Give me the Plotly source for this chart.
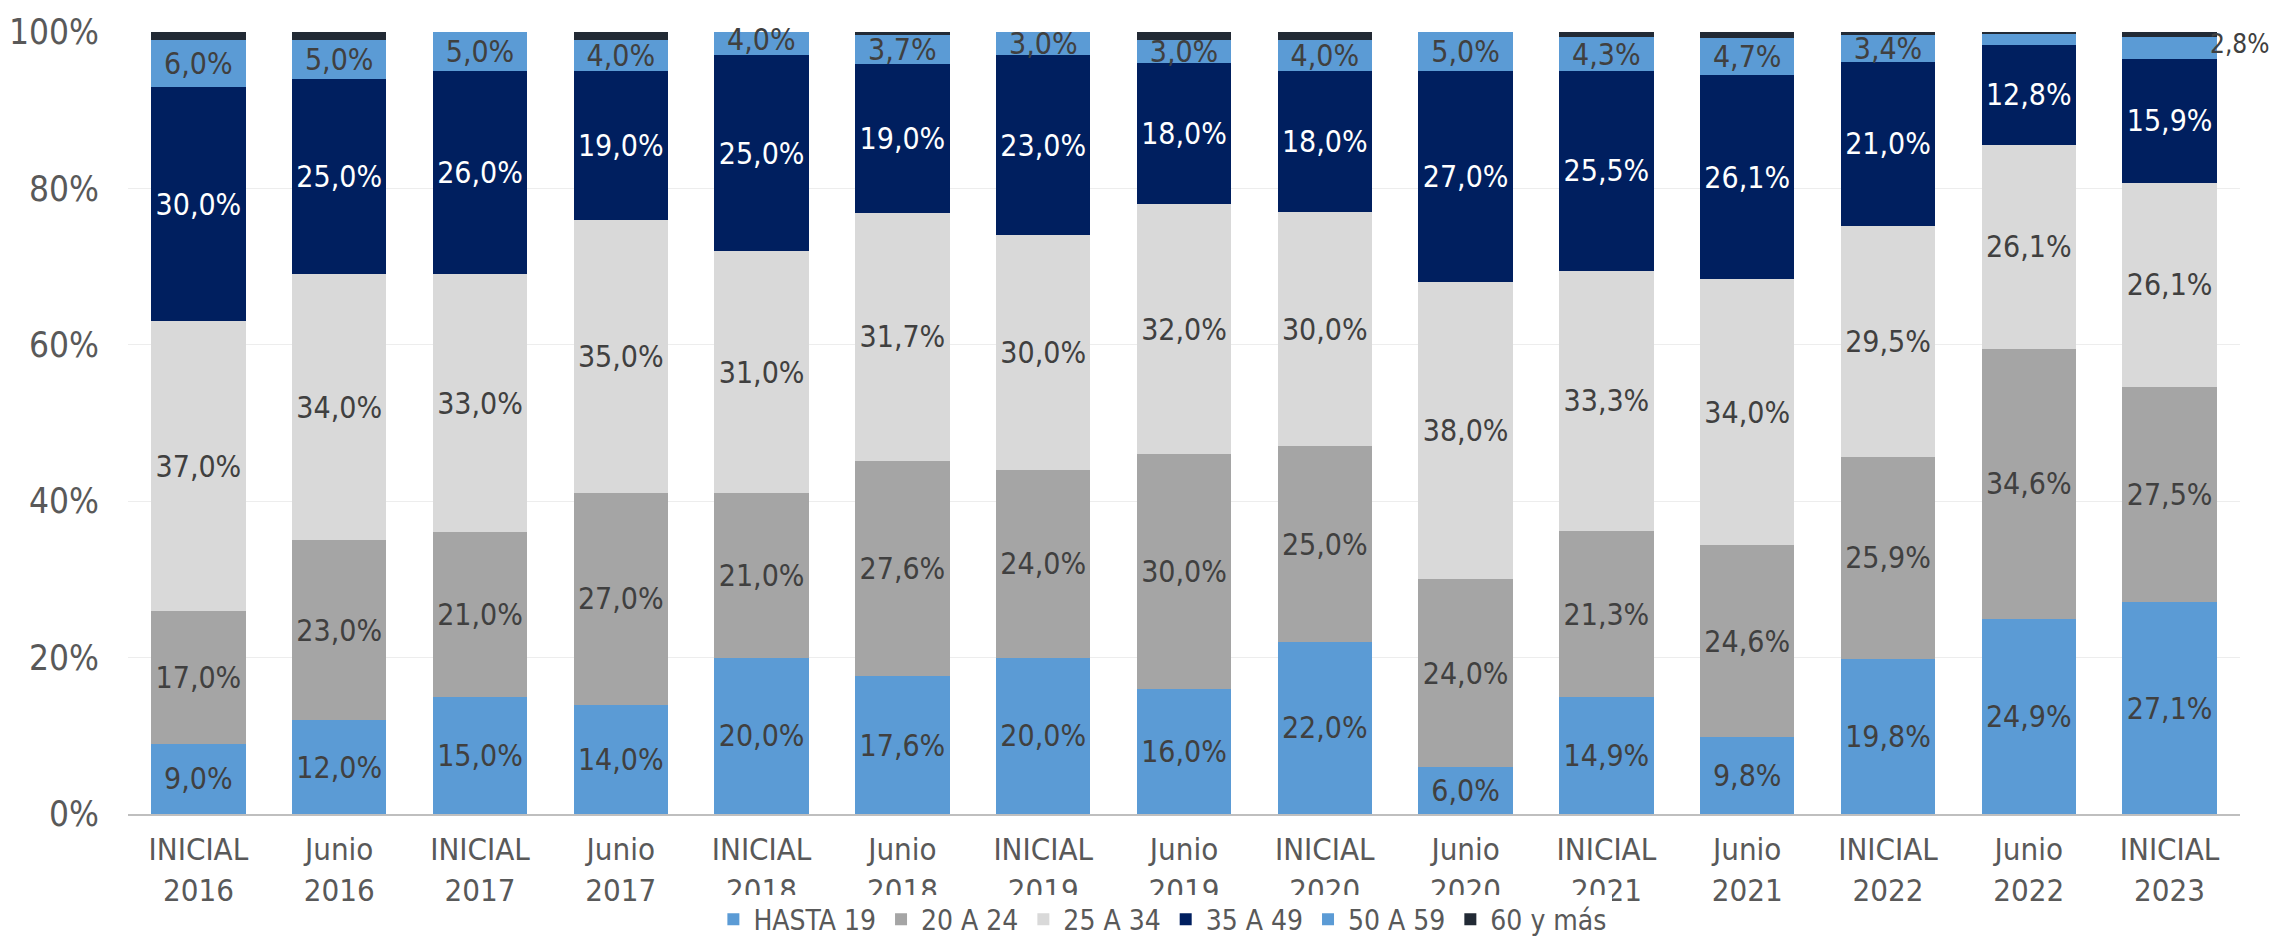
import plotly.graph_objects as go

FONT = "DejaVu Sans Condensed, Liberation Sans Narrow, Roboto, sans-serif"

categories = [
    "INICIAL<br>2016", "Junio<br>2016", "INICIAL<br>2017", "Junio<br>2017",
    "INICIAL<br>2018", "Junio<br>2018", "INICIAL<br>2019", "Junio<br>2019",
    "INICIAL<br>2020", "Junio<br>2020", "INICIAL<br>2021", "Junio<br>2021",
    "INICIAL<br>2022", "Junio<br>2022", "INICIAL<br>2023",
]

hasta_19 = [9.0, 12.0, 15.0, 14.0, 20.0, 17.6, 20.0, 16.0, 22.0, 6.0, 14.9, 9.8, 19.8, 24.9, 27.1]
de_20_24 = [17.0, 23.0, 21.0, 27.0, 21.0, 27.6, 24.0, 30.0, 25.0, 24.0, 21.3, 24.6, 25.9, 34.6, 27.5]
de_25_34 = [37.0, 34.0, 33.0, 35.0, 31.0, 31.7, 30.0, 32.0, 30.0, 38.0, 33.3, 34.0, 29.5, 26.1, 26.1]
de_35_49 = [30.0, 25.0, 26.0, 19.0, 25.0, 19.0, 23.0, 18.0, 18.0, 27.0, 25.5, 26.1, 21.0, 12.8, 15.9]
de_50_59 = [6.0, 5.0, 5.0, 4.0, 4.0, 3.7, 3.0, 3.0, 4.0, 5.0, 4.3, 4.7, 3.4, 1.4, 2.8]
mas_60 = [1.0, 1.0, 0.2, 1.0, 0.0, 0.4, 0.2, 1.0, 1.0, 0.0, 0.7, 0.8, 0.4, 0.2, 0.6]

y_ticks = [0, 20, 40, 60, 80, 100]
y_tick_text = ["0%", "20%", "40%", "60%", "80%", "100%"]

# 50 A 59 labels: hidden one, ones drawn over the top edge, one placed outside
hidden_50_59 = ["Junio<br>2022"]
top_50_59 = ["INICIAL<br>2018", "INICIAL<br>2019"]
outside_50_59 = "INICIAL<br>2023"


def fmt(v):
    return f"{v:.1f}".replace(".", ",") + "%"


series = [
    ("HASTA 19", hasta_19, "#5B9BD5", "#404040", True),
    ("20 A 24", de_20_24, "#A5A5A5", "#404040", True),
    ("25 A 34", de_25_34, "#D9D9D9", "#404040", True),
    ("35 A 49", de_35_49, "#001F5F", "#FFFFFF", True),
    ("50 A 59", de_50_59, "#5B9BD5", "#404040", True),
    ("60 y más", mas_60, "#222A35", "#404040", False),
]

LABEL_SIZE = 30

fig = go.Figure()
for name, vals, color, tcolor, labelled in series:
    if labelled:
        texts = [fmt(v) for v in vals]
        if name == "50 A 59":
            skip = hidden_50_59 + top_50_59 + [outside_50_59]
            texts = ["" if c in skip else t for c, t in zip(categories, texts)]
    else:
        texts = None
    fig.add_trace(go.Bar(
        x=categories, y=vals, name=name,
        marker=dict(color=color, line=dict(width=0)),
        text=texts, textposition="inside" if labelled else "none",
        insidetextanchor="middle", textangle=0,
        textfont=dict(size=LABEL_SIZE, color=tcolor, family=FONT),
        hoverinfo="name+y",
    ))


def base_of(i):
    return hasta_19[i] + de_20_24[i] + de_25_34[i] + de_35_49[i]


for c in top_50_59:
    i = categories.index(c)
    fig.add_annotation(
        x=c, y=base_of(i) + de_50_59[i] / 2, text=fmt(de_50_59[i]),
        showarrow=False, xanchor="center", yanchor="middle",
        font=dict(size=LABEL_SIZE, color="#404040", family=FONT),
    )

i = categories.index(outside_50_59)
fig.add_annotation(
    x=outside_50_59, y=base_of(i) + de_50_59[i] / 2, text=fmt(de_50_59[i]),
    showarrow=False, xanchor="right", yanchor="middle", xshift=101, yshift=4,
    font=dict(size=26, color="#404040", family=FONT),
)

fig.update_layout(
    width=2271, height=930,
    margin=dict(l=120, r=39, t=24, b=124, autoexpand=False),
    barmode="stack", bargap=0.33,
    plot_bgcolor="white", paper_bgcolor="white",
    separators=",.",
    uniformtext=dict(minsize=LABEL_SIZE, mode="show"),
    font=dict(family=FONT, color="#595959"),
    legend=dict(
        orientation="h", x=0.49, xanchor="center", y=-0.135, yanchor="middle",
        font=dict(size=28, color="#595959", family=FONT),
        traceorder="normal", itemwidth=30,
    ),
)
fig.update_xaxes(
    range=[-0.5, len(categories) - 0.5],
    tickfont=dict(size=31, color="#595959", family=FONT),
    showline=True, linecolor="#BFBFBF", linewidth=2, ticks="",
    showgrid=False, ticklabelstandoff=7,
)
fig.update_yaxes(
    range=[0, 100], tickvals=y_ticks, ticktext=y_tick_text,
    tickfont=dict(size=35, color="#595959", family=FONT),
    showgrid=True, gridcolor="#EDEDED", gridwidth=1, zeroline=False,
    ticklabelstandoff=28, ticklabeloverflow="allow",
)

fig.write_html("out.html")
